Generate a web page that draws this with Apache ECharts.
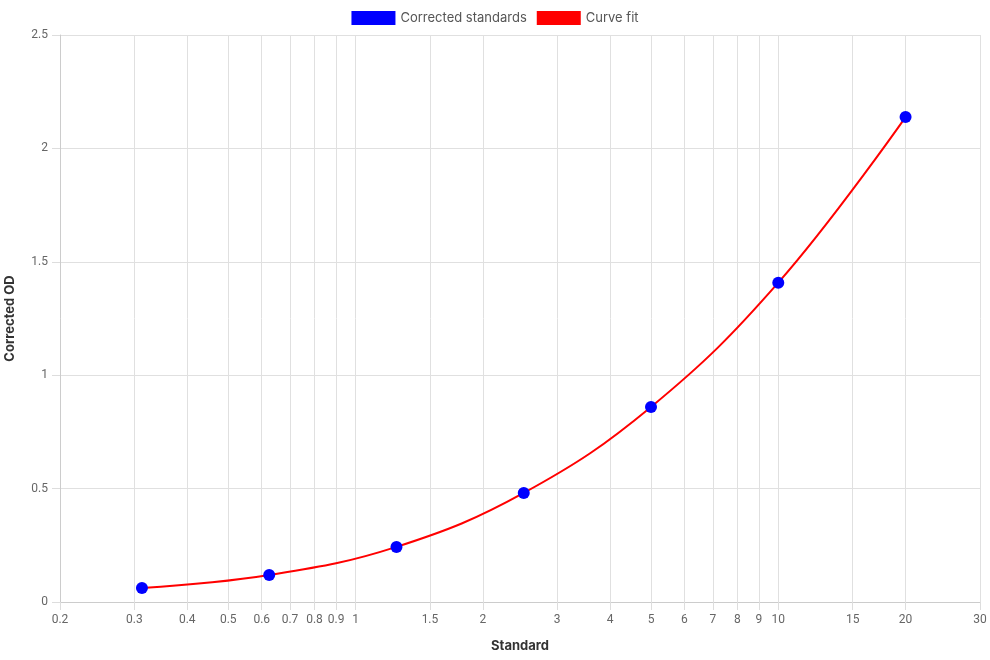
<!DOCTYPE html>
<html>
<head>
<meta charset="utf-8">
<script src="https://cdn.jsdelivr.net/npm/echarts@6/dist/echarts.min.js"></script>
<style>
	html, body { margin: 0; padding: 0; background: #fff; }
	#chart { width: 990px; height: 660px; }
</style>
</head>
<body>
<div id="chart"></div>
<script>
	// standards (x) and corrected OD (y)
	var standards = [0.3125, 0.625, 1.25, 2.5, 5, 10, 20];
	var correctedOD = [0.062, 0.119, 0.243, 0.481, 0.86, 1.408, 2.138];
	var fitOD = [0.062, 0.119, 0.243, 0.481, 0.86, 1.408, 2.138];
	var xTicks = [0.2, 0.3, 0.4, 0.5, 0.6, 0.7, 0.8, 0.9, 1, 1.5, 2, 3, 4, 5, 6, 7, 8, 9, 10, 15, 20, 30];

	function pairs(xs, ys) {
		var list = [];
		for (var i = 0; i < xs.length; i++) {
			list.push([xs[i], ys[i]]);
		}
		return list;
	}

	var chart = echarts.init(document.getElementById('chart'));
	var option = {
		animation: false,
		legend: {
			top: 6,
			left: 'center',
			itemWidth: 44,
			itemHeight: 14,
			itemGap: 10,
			icon: 'rect',
			textStyle: { color: '#555', fontSize: 13, fontFamily: 'Inter' },
			data: ['Corrected standards', 'Curve fit']
		},
		grid: {
			left: 60,
			right: 10,
			top: 35,
			bottom: 58,
			outerBoundsMode: 'none'
		},
		xAxis: {
			type: 'log',
			min: 0.2,
			max: 30,
			name: 'Standard',
			nameLocation: 'middle',
			nameGap: 38,
			nameTextStyle: { color: '#333', fontSize: 13, fontWeight: 'bold', fontFamily: 'Inter' },
			axisLine: { lineStyle: { color: '#ccc' } },
			axisTick: { show: true, length: 8, customValues: xTicks, lineStyle: { color: '#ddd' } },
			axisLabel: {
				customValues: xTicks,
				color: '#666',
				fontSize: 12,
				fontFamily: 'Roboto',
				margin: 12,
				formatter: function (v) { return String(+v.toPrecision(3)); }
			},
			splitLine: { show: true, customValues: xTicks, lineStyle: { color: '#e0e0e0' } },
			minorSplitLine: { show: false }
		},
		yAxis: {
			type: 'value',
			min: 0,
			max: 2.5,
			interval: 0.5,
			name: 'Corrected OD',
			nameLocation: 'middle',
			nameGap: 43,
			nameTextStyle: { color: '#333', fontSize: 13, fontWeight: 'bold', fontFamily: 'Inter' },
			axisLine: { show: true, lineStyle: { color: '#ccc' } },
			axisTick: { show: true, length: 8, lineStyle: { color: '#ddd' } },
			axisLabel: { color: '#666', fontSize: 12, fontFamily: 'Roboto', margin: 12 },
			splitLine: { lineStyle: { color: '#e0e0e0' } }
		},
		series: [
			{
				name: 'Curve fit',
				type: 'line',
				smooth: 0.4,
				showSymbol: false,
				symbol: 'none',
				itemStyle: { color: '#ff0000' },
				lineStyle: { color: '#ff0000', width: 2 },
				data: pairs(standards, fitOD),
				z: 2
			},
			{
				name: 'Corrected standards',
				type: 'scatter',
				symbolSize: 12,
				itemStyle: { color: '#0000ff', opacity: 1 },
				data: pairs(standards, correctedOD),
				z: 3
			}
		]
	};
	chart.setOption(option);
</script>
</body>
</html>
